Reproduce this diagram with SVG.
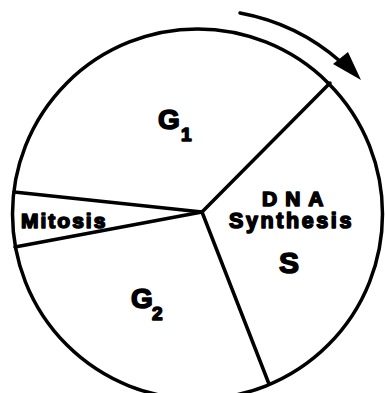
<svg xmlns="http://www.w3.org/2000/svg" width="385" height="393" viewBox="0 0 385 393">
<style>
.ln{fill:none;stroke:#000;stroke-width:3.5;stroke-linecap:round}
.t{font-family:"Liberation Sans",Arial,sans-serif;font-weight:bold;fill:#000;stroke:#000;stroke-width:1.6;stroke-linejoin:round}
</style>
<rect width="385" height="393" fill="#fff"/>
<g id="connectors">
<circle cx="197.5" cy="214" r="185" class="ln" stroke-width="3"/>
<line x1="202" y1="212" x2="330" y2="83" class="ln"/>
<line x1="202" y1="212" x2="269" y2="384" class="ln"/>
<line x1="202" y1="212" x2="14" y2="192" class="ln"/>
<line x1="202" y1="212" x2="15" y2="247" class="ln"/>
<path d="M240,13 A210 210 0 0 1 341,62" class="ln" stroke-width="4"/>
<polygon points="333,64 348,52 361,80" fill="#000"/>
</g>
<g id="g1"><text class="t" x="158" y="129" font-size="28">G</text><text class="t" x="181" y="141" font-size="19">1</text></g>
<g id="g2"><text class="t" x="131" y="308" font-size="28">G</text><text class="t" x="152" y="320" font-size="19">2</text></g>
<g id="mitosis"><text class="t" x="21" y="228" font-size="21" letter-spacing="2">Mitosis</text></g>
<g id="s"><text class="t" x="262" y="206" font-size="21" letter-spacing="8">DNA</text><text class="t" x="229" y="228" font-size="21.5" letter-spacing="2.6">Synthesis</text><text class="t" x="279" y="273" font-size="30">S</text></g>
</svg>
